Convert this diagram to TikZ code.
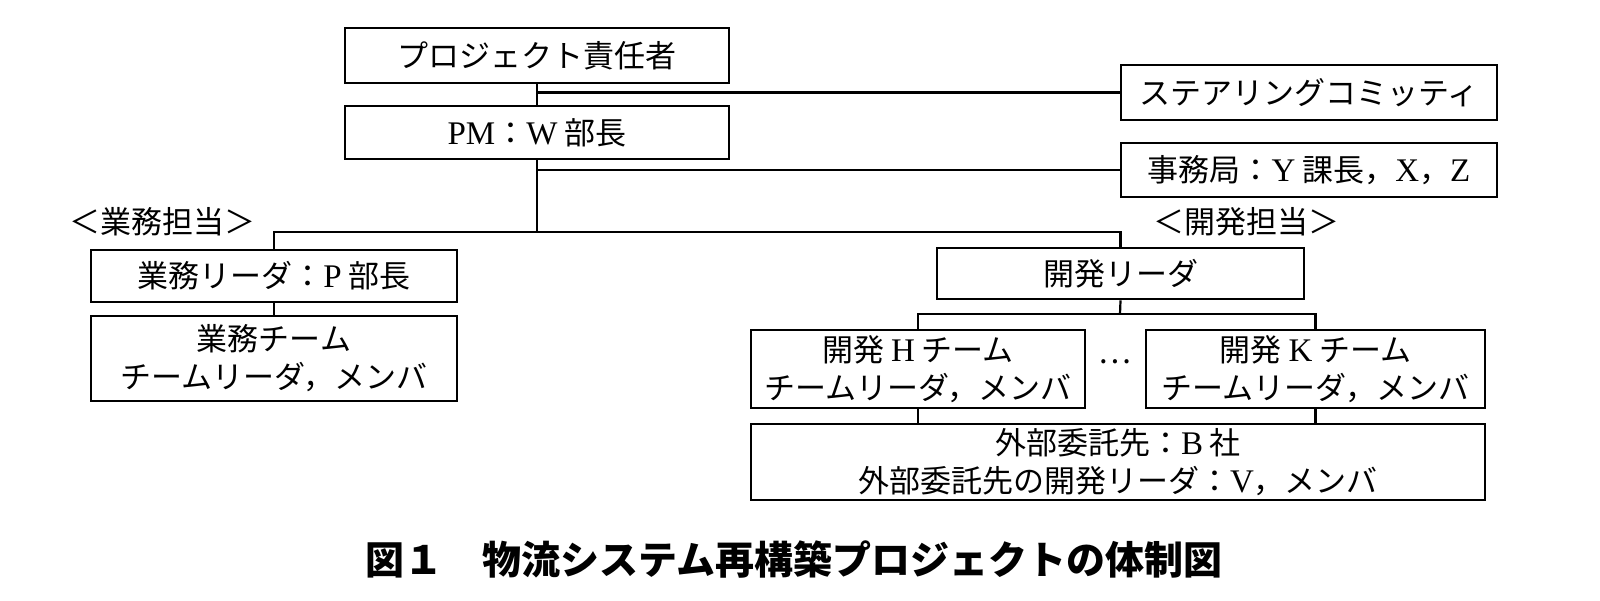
\documentclass[tikz,border=0pt]{standalone}
\usepackage{fontspec}
\setmainfont{Noto Sans CJK JP}
\newfontfamily\ltnfont{Liberation Serif}
\newcommand\ltn[1]{{\ltnfont\fontsize{16.5}{19}\selectfont #1}}
\begin{document}
\begin{tikzpicture}[x=0.5pt,y=-0.5pt,
  box/.style={draw, line width=1.3pt, inner sep=0pt, align=center, font=\fontsize{15.5}{19}\selectfont},
  conn/.style={line width=1.1pt},
  lbl/.style={inner sep=0pt, font=\fontsize{15.5}{19}\selectfont},
  captext/.style={inner sep=0pt, font=\fontsize{19.5}{22}\selectfont\bfseries}]
\useasboundingbox (0,0) rectangle (1600,600);
% boxes
\node[box, minimum width=192pt, minimum height=27.5pt] (pj) at (537,55.5) {プロジェクト責任者};
\node[box, minimum width=192pt, minimum height=26.5pt] (pm) at (537,132.5) {\ltn{PM}：\ltn{W} 部長};
\node[box, minimum width=188pt, minimum height=27.5pt] (st) at (1309,92.5) {ステアリングコミッティ};
\node[box, minimum width=188pt, minimum height=27pt] (jm) at (1309,170) {事務局：\ltn{Y} 課長，\ltn{X}，\ltn{Z}};
\node[box, minimum width=183pt, minimum height=26pt] (gl) at (274,276) {業務リーダ：\ltn{P} 部長};
\node[box, minimum width=183pt, minimum height=42.5pt] (gt) at (274,358.5) {業務チーム\\チームリーダ，メンバ};
\node[box, minimum width=183.5pt, minimum height=25.5pt] (kl) at (1120.5,273.5) {開発リーダ};
\node[box, minimum width=167pt, minimum height=39pt] (kh) at (918,369) {開発 \ltn{H} チーム\\チームリーダ，メンバ};
\node[box, minimum width=169.5pt, minimum height=39pt] (kk) at (1315.5,369) {開発 \ltn{K} チーム\\チームリーダ，メンバ};
\node[box, minimum width=367pt, minimum height=38pt] (gb) at (1118,462) {外部委託先：\ltn{B} 社\\外部委託先の開発リーダ：\ltn{V}，メンバ};
% labels
\node[lbl] (lg) at (162,222) {＜業務担当＞};
\node[lbl] (lk) at (1246,222) {＜開発担当＞};
\node[lbl] (dots) at (1115,362) {…};
\node[captext] (caption) at (794,559) {図１　物流システム再構築プロジェクトの体制図};
% connectors
\coordinate (bar) at (537,232);
\coordinate (bar2) at (1120,314);
\draw[conn] (pj.south) -- (pm.north);
\draw[conn] (pj.south |- st.west) -- (st.west);
\draw[conn] (pm.south) -- (bar);
\draw[conn] (pm.south |- jm.west) -- (jm.west);
\draw[conn] (gl.north) -- (gl.north |- bar) -- (kl.north |- bar) -- (kl.north);
\draw[conn] (gl.south) -- (gt.north);
\draw[conn] (kl.south) -- (bar2);
\draw[conn] (kh.north) -- (kh.north |- bar2) -- (kk.north |- bar2) -- (kk.north);
\draw[conn] (kh.south) -- (kh.south |- gb.north);
\draw[conn] (kk.south) -- (kk.south |- gb.north);
\end{tikzpicture}
\end{document}
